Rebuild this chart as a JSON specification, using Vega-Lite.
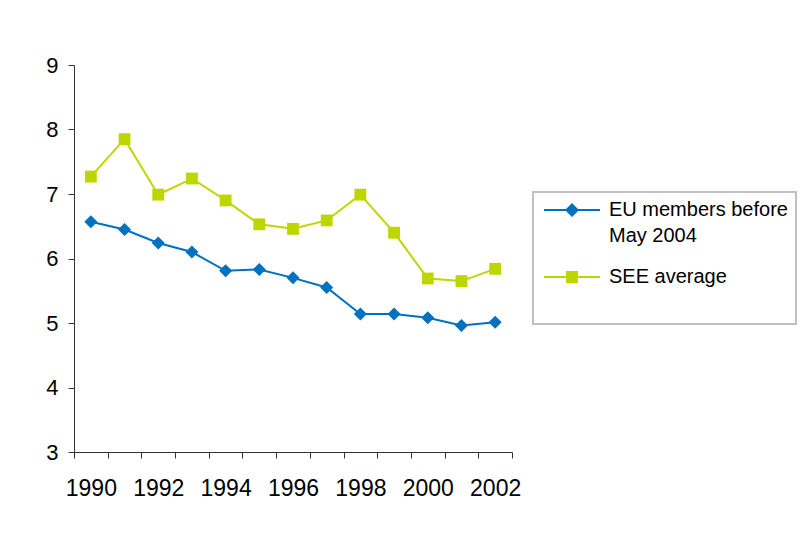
{
  "$schema": "https://vega.github.io/schema/vega-lite/v6.json",
  "width": 438,
  "height": 387,
  "autosize": {"type": "none"},
  "padding": {"left": 74, "top": 65, "right": 296, "bottom": 83},
  "config": {"view": {"stroke": null}, "font": "Liberation Sans"},
  "data": {
    "values": [
      {"year": 1990, "series": "EU members before May 2004", "value": 6.57},
      {"year": 1991, "series": "EU members before May 2004", "value": 6.45},
      {"year": 1992, "series": "EU members before May 2004", "value": 6.24},
      {"year": 1993, "series": "EU members before May 2004", "value": 6.1},
      {"year": 1994, "series": "EU members before May 2004", "value": 5.81},
      {"year": 1995, "series": "EU members before May 2004", "value": 5.83},
      {"year": 1996, "series": "EU members before May 2004", "value": 5.7},
      {"year": 1997, "series": "EU members before May 2004", "value": 5.55},
      {"year": 1998, "series": "EU members before May 2004", "value": 5.14},
      {"year": 1999, "series": "EU members before May 2004", "value": 5.14},
      {"year": 2000, "series": "EU members before May 2004", "value": 5.08},
      {"year": 2001, "series": "EU members before May 2004", "value": 4.96},
      {"year": 2002, "series": "EU members before May 2004", "value": 5.01},
      {"year": 1990, "series": "SEE average", "value": 7.27},
      {"year": 1991, "series": "SEE average", "value": 7.85},
      {"year": 1992, "series": "SEE average", "value": 6.99},
      {"year": 1993, "series": "SEE average", "value": 7.24},
      {"year": 1994, "series": "SEE average", "value": 6.9},
      {"year": 1995, "series": "SEE average", "value": 6.53},
      {"year": 1996, "series": "SEE average", "value": 6.46},
      {"year": 1997, "series": "SEE average", "value": 6.59},
      {"year": 1998, "series": "SEE average", "value": 6.99},
      {"year": 1999, "series": "SEE average", "value": 6.4},
      {"year": 2000, "series": "SEE average", "value": 5.69},
      {"year": 2001, "series": "SEE average", "value": 5.65},
      {"year": 2002, "series": "SEE average", "value": 5.84}
    ]
  },
  "encoding": {
    "x": {
      "field": "year",
      "type": "ordinal",
      "scale": {"type": "band", "paddingInner": 0, "paddingOuter": 0},
      "axis": {
        "title": null,
        "tickBand": "extent",
        "labelAngle": 0,
        "labelOverlap": false,
        "labelExpr": "datum.value % 2 == 0 ? datum.label : ''",
        "labelFontSize": 23,
        "labelColor": "black",
        "tickSize": 6,
        "labelPadding": 19,
        "domainColor": "#333333",
        "tickColor": "#333333",
        "grid": false
      }
    },
    "y": {
      "field": "value",
      "type": "quantitative",
      "scale": {"domain": [3, 9], "nice": false, "zero": false},
      "axis": {
        "title": null,
        "values": [3, 4, 5, 6, 7, 8, 9],
        "labelFontSize": 22,
        "labelColor": "black",
        "tickSize": 6,
        "labelPadding": 10,
        "domainColor": "#333333",
        "tickColor": "#333333",
        "grid": false
      }
    }
  },
  "layer": [
    {
      "mark": {"type": "line", "strokeWidth": 2},
      "encoding": {
        "stroke": {"field": "series", "type": "nominal", "scale": {"domain": ["EU members before May 2004", "SEE average"], "range": ["#0070C0", "#BED600"]}, "legend": null}
      }
    },
    {
      "transform": [{"filter": "datum.series == 'EU members before May 2004'"}],
      "mark": {"type": "point", "filled": true, "opacity": 1, "shape": "diamond", "size": 170},
      "encoding": {
        "color": {
          "field": "series",
          "type": "nominal",
          "scale": {"domain": ["EU members before May 2004"], "range": ["#0070C0"]},
          "legend": {
            "orient": "none",
            "legendX": 459,
            "legendY": 127,
            "title": " ",
            "titleOrient": "bottom",
            "titleFontSize": 20,
            "titlePadding": 50,
            "padding": 8,
            "strokeColor": "#c0c0c0",
            "labelFontSize": 20,
            "labelColor": "black",
            "labelOffset": 48,
            "labelLimit": 300,
            "symbolSize": 196,
            "symbolType": "M-1,-0.15H7V0.15H-1Z M3,-1L4,0L3,1L2,0Z",
            "symbolOpacity": 1,
            "symbolStrokeWidth": 0,
            "labelExpr": "['EU members before', 'May 2004']",
            "encode": {
              "legend": {"update": {"strokeWidth": {"value": 2}}},
              "labels": {"update": {"lineHeight": {"value": 26}}}
            }
          }
        }
      }
    },
    {
      "transform": [{"filter": "datum.series == 'SEE average'"}],
      "mark": {"type": "point", "filled": true, "opacity": 1, "shape": "square", "size": 140},
      "encoding": {
        "fill": {
          "field": "series",
          "type": "nominal",
          "scale": {"domain": ["SEE average"], "range": ["#BED600"]},
          "legend": {
            "orient": "none",
            "legendX": 467,
            "legendY": 202,
            "title": null,
            "padding": 0,
            "labelFontSize": 20,
            "labelColor": "black",
            "labelOffset": 48,
            "labelLimit": 300,
            "symbolSize": 196,
            "symbolType": "M-1,-0.15H7V0.15H-1Z M2.14,-0.86H3.86V0.86H2.14Z",
            "symbolOpacity": 1,
            "symbolStrokeWidth": 0
          }
        }
      }
    }
  ]
}
